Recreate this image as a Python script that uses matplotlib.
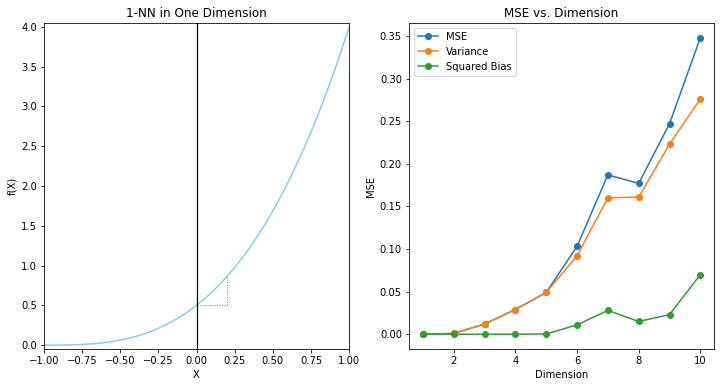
import matplotlib
matplotlib.use("Agg")
import matplotlib.pyplot as plt

# Left panel: curve values
curve_x = [-1.0, -0.95, -0.9, -0.85, -0.8, -0.75, -0.7, -0.65, -0.6, -0.55, -0.5,
           -0.45, -0.4, -0.35, -0.3, -0.25, -0.2, -0.15, -0.1, -0.05, 0.0,
           0.05, 0.1, 0.15, 0.2, 0.25, 0.3, 0.35, 0.4, 0.45, 0.5,
           0.55, 0.6, 0.65, 0.7, 0.75, 0.8, 0.85, 0.9, 0.95, 1.0]
curve_y = [0.0, 0.0001, 0.0005, 0.0017, 0.004, 0.0078, 0.0135, 0.0214, 0.032, 0.0456, 0.0625,
           0.0832, 0.108, 0.1373, 0.1715, 0.2109, 0.256, 0.3071, 0.3645, 0.4287, 0.5,
           0.5788, 0.6655, 0.7604, 0.864, 0.9766, 1.0985, 1.2302, 1.372, 1.5243, 1.6875,
           1.862, 2.048, 2.2461, 2.4565, 2.6797, 2.916, 3.1658, 3.4295, 3.7074, 4.0]
query_x = 0.0
query_y = 0.5
neighbor_x = 0.2
neighbor_y = 0.864

# Right panel
dimensions = [1, 2, 3, 4, 5, 6, 7, 8, 9, 10]
mse = [0.0, 0.001, 0.012, 0.029, 0.049, 0.103, 0.187, 0.177, 0.247, 0.348]
variance = [0.0, 0.001, 0.012, 0.029, 0.049, 0.092, 0.160, 0.161, 0.223, 0.276]
sq_bias = [0.0, 0.0, 0.0, 0.0, 0.0003, 0.011, 0.028, 0.015, 0.023, 0.070]

fig = plt.figure(figsize=(10, 5.375), dpi=72)
ax1 = fig.add_axes([0.061, 0.098, 0.424, 0.843])
ax2 = fig.add_axes([0.568, 0.098, 0.424, 0.843])

ax1.plot(curve_x, curve_y, color="skyblue", linewidth=1.5)
ax1.axvline(query_x, color="black", linewidth=1.2)
ax1.plot([query_x, neighbor_x], [query_y, query_y], color="#6a5acd", linestyle="--",
         linewidth=0.7, dashes=(2, 1.5))
ax1.plot([neighbor_x, neighbor_x], [query_y, neighbor_y], color="#6a5acd", linestyle="--",
         linewidth=0.7, dashes=(2, 1.5))
ax1.set_xlim(-1, 1)
ax1.set_ylim(-0.05, 4.05)
ax1.set_xticks([-1.0, -0.75, -0.5, -0.25, 0.0, 0.25, 0.5, 0.75, 1.0])
ax1.set_yticks([0.0, 0.5, 1.0, 1.5, 2.0, 2.5, 3.0, 3.5, 4.0])
ax1.set_xlabel("X")
ax1.set_ylabel("f(X)")
ax1.set_title("1-NN in One Dimension")

ax2.plot(dimensions, mse, marker="o", label="MSE")
ax2.plot(dimensions, variance, marker="o", label="Variance")
ax2.plot(dimensions, sq_bias, marker="o", label="Squared Bias")
ax2.set_xlabel("Dimension")
ax2.set_ylabel("MSE")
ax2.set_title("MSE vs. Dimension")
ax2.legend(loc="upper left")

fig.savefig("out.png", dpi=72)
